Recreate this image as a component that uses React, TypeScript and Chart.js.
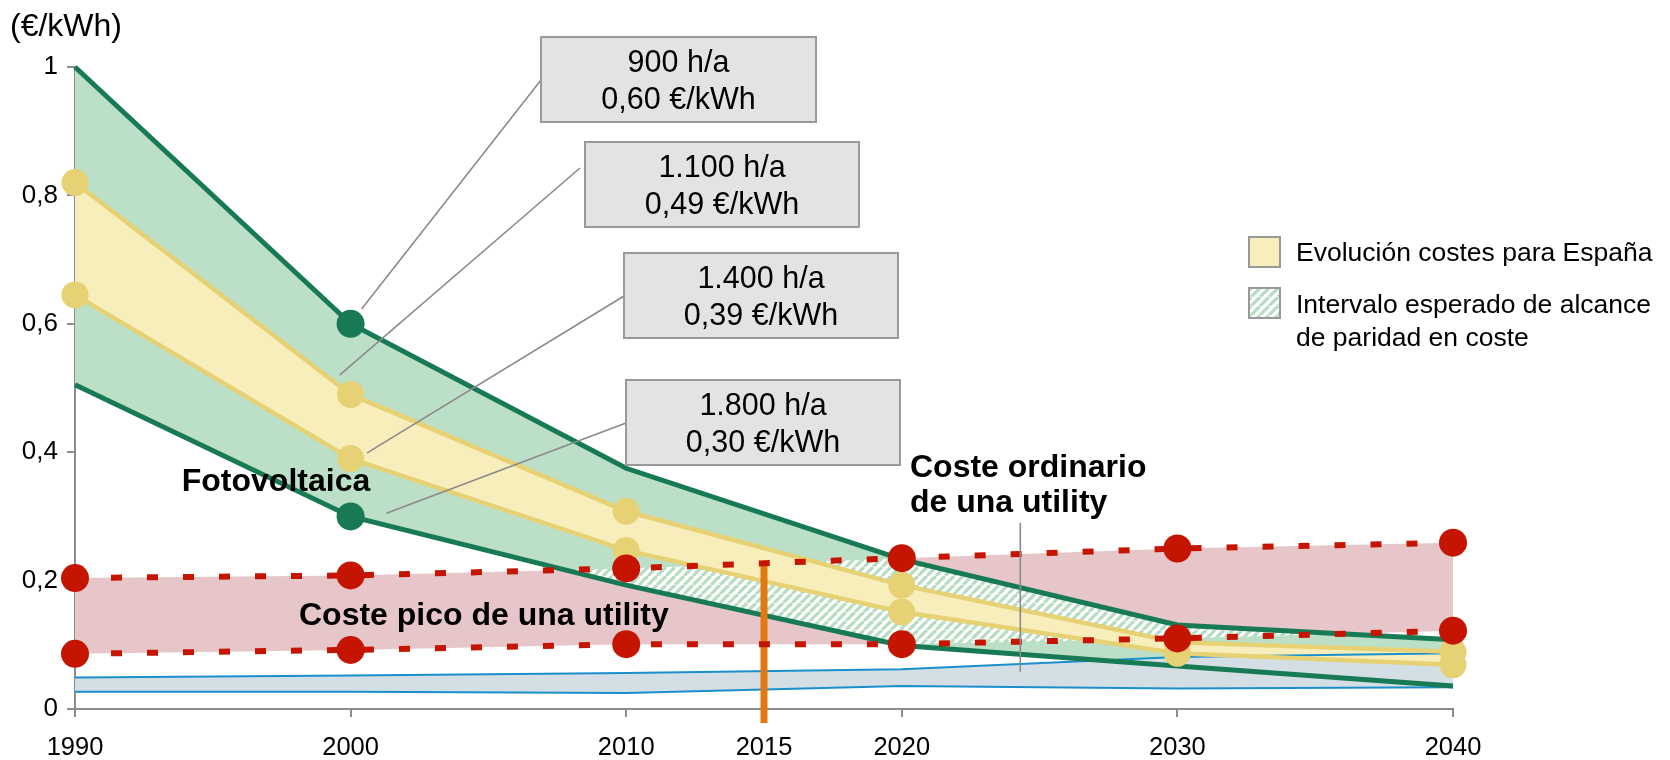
import { useEffect, useRef } from 'react';
import { Chart, registerables } from 'chart.js';

Chart.register(...registerables);

// ---- data ----
const years = [1990, 2000, 2010, 2020, 2030, 2040];
// photovoltaic cost range (€/kWh): 900 h/a (upper) and 1.800 h/a (lower)
const pvHigh = [1.0, 0.6, 0.375, 0.233, 0.131, 0.108];
const pvLow = [0.505, 0.3, 0.193, 0.099, 0.067, 0.036];
// cost evolution for Spain: 1.100 h/a (upper) and 1.400 h/a (lower)
const spainHigh = [0.82, 0.49, 0.308, 0.193, 0.104, 0.089];
const spainLow = [0.645, 0.39, 0.247, 0.151, 0.087, 0.069];
// utility peak cost band
const peakHigh = [0.204, 0.208, 0.219, 0.235, 0.25, 0.259];
const peakLow = [0.086, 0.092, 0.101, 0.101, 0.11, 0.122];
// utility ordinary cost band
const ordinaryHigh = [0.049, 0.052, 0.056, 0.062, 0.081, 0.087];
const ordinaryLow = [0.027, 0.027, 0.025, 0.036, 0.032, 0.034];

const xTicks = [1990, 2000, 2010, 2015, 2020, 2030, 2040];
const yTicks = [0, 0.2, 0.4, 0.6, 0.8, 1];
const yTickLabels = ['0', '0,2', '0,4', '0,6', '0,8', '1'];

// 2015 marker (vertical bar)
const markerYear = 2015;
const markerRange = [0.227, -0.022];

// call-out boxes: operating hours and the 2000 value of the series they point at
const calloutHours = ['900', '1.100', '1.400', '1.800'];
const calloutSeries = [pvHigh, spainHigh, spainLow, pvLow];
const calloutYear = 2000;

const FONT = "'Liberation Sans', Arial, Helvetica, sans-serif";
const C = {
  pvLine: '#187A55',
  pvFill: '#BCDFC7',
  spainLine: '#E6D275',
  spainFill: '#F8EEBB',
  peak: '#C51400',
  peakFill: '#E6C6C8',
  ordLine: '#1B8FCB',
  ordFill: '#D3DFE5',
  marker: '#E27910',
  axis: '#8C8C8C',
  hatch: '#B6DDC2',
  boxFill: '#E3E3E3',
  boxEdge: '#999999',
  leader: '#8A8A8A',
};

const pts = (vals: number[]) => years.map((yr, i) => ({ x: yr, y: vals[i] }));

function makeHatch(ctx: CanvasRenderingContext2D) {
  const s = 9;
  const c = document.createElement('canvas');
  c.width = s;
  c.height = s;
  const g = c.getContext('2d')!;
  g.fillStyle = '#ffffff';
  g.fillRect(0, 0, s, s);
  g.strokeStyle = C.hatch;
  g.lineWidth = 3.2;
  for (const o of [-s, 0, s]) {
    g.beginPath();
    g.moveTo(o, s);
    g.lineTo(o + s, 0);
    g.stroke();
  }
  return ctx.createPattern(c, 'repeat')!;
}

function bandPath(ctx: CanvasRenderingContext2D, top: any[], bottom: any[]) {
  ctx.beginPath();
  top.forEach((p, i) => (i ? ctx.lineTo(p.x, p.y) : ctx.moveTo(p.x, p.y)));
  for (let i = bottom.length - 1; i >= 0; i--) ctx.lineTo(bottom[i].x, bottom[i].y);
  ctx.closePath();
}

export default function App() {
  const ref = useRef<HTMLCanvasElement>(null);

  useEffect(() => {
    const canvas = ref.current!;
    const ctx0 = canvas.getContext('2d')!;
    const hatch = makeHatch(ctx0);

    const fillOnly = (data: number[], order: number, extra: any = {}) => ({
      data: pts(data),
      borderWidth: 0,
      borderColor: 'rgba(0,0,0,0)',
      pointRadius: 0,
      fill: false,
      order,
      ...extra,
    });

    // overlap of the PV range with the utility peak band (cost parity window)
    const parityPlugin = {
      id: 'parityHatch',
      afterDatasetDraw(chart: any, args: any) {
        if (args.index !== 2) return;
        const { ctx, chartArea } = chart;
        const m = (i: number) => chart.getDatasetMeta(i).data;
        ctx.save();
        ctx.beginPath();
        ctx.rect(chartArea.left, chartArea.top, chartArea.right - chartArea.left, chartArea.bottom - chartArea.top);
        ctx.clip();
        bandPath(ctx, m(2), m(3));
        ctx.clip();
        bandPath(ctx, m(0), m(1));
        ctx.fillStyle = hatch;
        ctx.fill();
        ctx.restore();
      },
    };

    const notesPlugin = {
      id: 'notes',
      afterDraw(chart: any) {
        const { ctx, scales } = chart;
        const xs = scales.x;
        const ys = scales.y;
        const X = (v: number) => xs.getPixelForValue(v);
        const Y = (v: number) => ys.getPixelForValue(v);
        ctx.save();

        // unit label
        ctx.fillStyle = '#000';
        ctx.textBaseline = 'middle';
        ctx.textAlign = 'left';
        ctx.font = `32px ${FONT}`;
        ctx.fillText('(€/kWh)', 10, 27);

        // call-out leaders and boxes
        const boxes = [
          { x: 541, y: 37, w: 275, h: 85, lx: 541, ly: 80, ex: 2000.4, ey: 0.623 },
          { x: 585, y: 142, w: 274, h: 85, lx: 580, ly: 168, ex: 1999.6, ey: 0.52 },
          { x: 624, y: 253, w: 274, h: 85, lx: 624, ly: 296, ex: 2000.6, ey: 0.399 },
          { x: 626, y: 380, w: 274, h: 85, lx: 626, ly: 423, ex: 2001.3, ey: 0.305 },
        ];
        const yi = years.indexOf(calloutYear);
        boxes.forEach((b, i) => {
          ctx.strokeStyle = C.leader;
          ctx.lineWidth = 1.6;
          ctx.beginPath();
          ctx.moveTo(b.lx, b.ly);
          ctx.lineTo(X(b.ex), Y(b.ey));
          ctx.stroke();
          ctx.fillStyle = C.boxFill;
          ctx.fillRect(b.x, b.y, b.w, b.h);
          ctx.strokeStyle = C.boxEdge;
          ctx.lineWidth = 2;
          ctx.strokeRect(b.x, b.y, b.w, b.h);
          ctx.fillStyle = '#000';
          ctx.textAlign = 'center';
          ctx.font = `30.5px ${FONT}`;
          const v = calloutSeries[i][yi].toFixed(2).replace('.', ',');
          ctx.fillText(`${calloutHours[i]} h/a`, b.x + b.w / 2, b.y + 26.5);
          ctx.fillText(`${v} €/kWh`, b.x + b.w / 2, b.y + 64);
        });

        // band captions
        ctx.fillStyle = '#000';
        ctx.font = `bold 32px ${FONT}`;
        ctx.textAlign = 'center';
        ctx.fillText('Fotovoltaica', 276, 482);
        ctx.textAlign = 'left';
        ctx.fillText('Coste pico de una utility', 299, 616);
        ctx.fillText('Coste ordinario', 910, 468);
        ctx.fillText('de una utility', 910, 503);

        ctx.strokeStyle = C.leader;
        ctx.lineWidth = 1.6;
        ctx.beginPath();
        ctx.moveTo(X(2024.3), Y(0.29));
        ctx.lineTo(X(2024.3), Y(0.058));
        ctx.stroke();

        // legend
        ctx.lineWidth = 2;
        ctx.strokeStyle = C.boxEdge;
        ctx.fillStyle = C.spainFill;
        ctx.fillRect(1249, 237, 31, 30);
        ctx.strokeRect(1249, 237, 31, 30);
        ctx.fillStyle = hatch;
        ctx.fillRect(1249, 288, 31, 30);
        ctx.strokeRect(1249, 288, 31, 30);
        ctx.fillStyle = '#000';
        ctx.font = `26.5px ${FONT}`;
        ctx.fillText('Evolución costes para España', 1296, 254);
        ctx.fillText('Intervalo esperado de alcance', 1296, 306);
        ctx.fillText('de paridad en coste', 1296, 339);

        ctx.restore();
      },
    };

    const chart = new Chart(canvas, {
      type: 'line',
      data: {
        datasets: [
          // fills (bottom layers)
          fillOnly(peakHigh, 100, { fill: 1, backgroundColor: C.peakFill }),
          fillOnly(peakLow, 99),
          fillOnly(pvHigh, 98, { fill: 3, backgroundColor: C.pvFill }),
          fillOnly(pvLow, 97),
          fillOnly(ordinaryHigh, 96, { fill: 5, backgroundColor: C.ordFill }),
          fillOnly(ordinaryLow, 95),
          fillOnly(spainHigh, 94, { fill: 7, backgroundColor: C.spainFill }),
          fillOnly(spainLow, 93),
          // lines
          ...[ordinaryHigh, ordinaryLow].map((d) => ({
            data: pts(d),
            borderColor: C.ordLine,
            borderWidth: 2,
            pointRadius: 0,
            fill: false,
            clip: false,
            order: 90,
          })),
          ...[pvHigh, pvLow].map((d) => ({
            data: pts(d),
            borderColor: C.pvLine,
            borderWidth: 5,
            pointRadius: years.map((yr) => (yr === calloutYear ? 14 : 0)),
            pointBackgroundColor: C.pvLine,
            pointBorderWidth: 0,
            fill: false,
            clip: false,
            order: 80,
          })),
          ...[spainHigh, spainLow].map((d) => ({
            data: pts(d),
            borderColor: C.spainLine,
            borderWidth: 4.5,
            pointRadius: 13.5,
            pointBackgroundColor: C.spainLine,
            pointBorderWidth: 0,
            fill: false,
            clip: false,
            order: 70,
          })),
          {
            data: markerRange.map((v) => ({ x: markerYear, y: v })),
            borderColor: C.marker,
            borderWidth: 7,
            pointRadius: 0,
            fill: false,
            clip: false,
            order: 65,
          },
          ...[peakHigh, peakLow].map((d) => ({
            data: pts(d),
            borderColor: C.peak,
            borderWidth: 6,
            borderDash: [11, 25],
            pointRadius: 14,
            pointBackgroundColor: C.peak,
            pointBorderWidth: 0,
            fill: false,
            clip: false,
            order: 60,
          })),
        ] as any,
      },
      options: {
        responsive: false,
        animation: false,
        events: [],
        layout: { padding: { left: 0, right: 217, top: 67, bottom: 0 } },
        plugins: {
          legend: { display: false },
          tooltip: { enabled: false },
          filler: { drawTime: 'beforeDatasetDraw', propagate: false },
        } as any,
        elements: { line: { tension: 0 } },
        scales: {
          x: {
            type: 'linear',
            min: 1990,
            max: 2040,
            afterBuildTicks: (s: any) => {
              s.ticks = xTicks.map((v) => ({ value: v }));
            },
            afterFit: (s: any) => {
              s.height = 51;
            },
            ticks: {
              autoSkip: false,
              maxRotation: 0,
              padding: 16,
              color: '#000',
              font: { family: FONT, size: 25.5 },
              callback: (v: any) => String(v),
            },
            grid: {
              drawOnChartArea: false,
              drawTicks: true,
              tickLength: 8,
              lineWidth: 2,
              color: (c: any) => (c.tick && c.tick.value === markerYear ? 'rgba(0,0,0,0)' : C.axis),
            },
            border: { display: true, color: C.axis, width: 2 },
          },
          y: {
            type: 'linear',
            min: 0,
            max: 1,
            afterBuildTicks: (s: any) => {
              s.ticks = yTicks.map((v) => ({ value: v }));
            },
            afterFit: (s: any) => {
              s.width = 75;
            },
            ticks: {
              padding: 9,
              color: '#000',
              font: { family: FONT, size: 26 },
              callback: (v: any) => yTickLabels[yTicks.indexOf(v)] ?? '',
            },
            grid: {
              drawOnChartArea: false,
              drawTicks: true,
              tickLength: 8,
              lineWidth: 2,
              color: C.axis,
            },
            border: { display: true, color: C.axis, width: 2 },
          },
        },
      } as any,
      plugins: [parityPlugin, notesPlugin],
    });

    return () => chart.destroy();
  }, []);

  return (
    <div style={{ position: 'absolute', left: 0, top: 0, width: 1670, height: 760, background: '#fff' }}>
      <canvas ref={ref} width={1670} height={760} style={{ display: 'block' }} />
    </div>
  );
}
